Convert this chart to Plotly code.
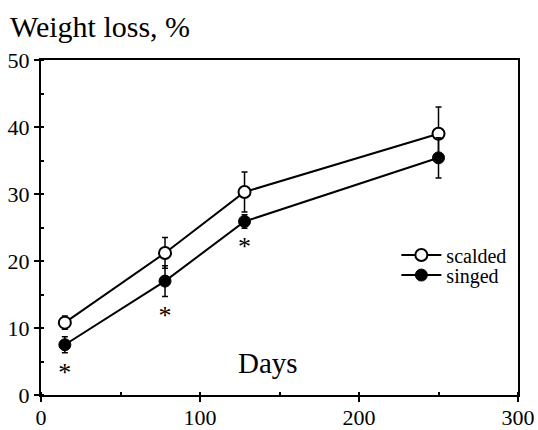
import plotly.graph_objects as go

days = [15, 78, 128, 250]
scalded = [10.8, 21.2, 30.3, 39.0]
scalded_err = [1.0, 2.3, 3.0, 4.0]
singed = [7.5, 17.0, 25.9, 35.4]
singed_err = [1.2, 2.3, 1.0, 3.0]
star_x = [15, 78, 128]
star_y = [3.1, 11.5, 21.9]
x_ticks = [0, 100, 200, 300]
y_ticks = [0, 10, 20, 30, 40, 50]

FONT = "'Liberation Serif', 'Times New Roman', serif"

fig = go.Figure()
fig.add_trace(go.Scatter(
    x=days, y=scalded, mode="lines+markers", name="scalded", legend="legend",
    line=dict(color="black", width=2),
    marker=dict(symbol="circle", size=12, color="white", line=dict(color="black", width=2)),
    error_y=dict(type="data", array=scalded_err, color="black", thickness=1.5, width=3),
))
fig.add_trace(go.Scatter(
    x=days, y=singed, mode="lines+markers", name="singed", legend="legend2",
    line=dict(color="black", width=2),
    marker=dict(symbol="circle", size=12, color="black", line=dict(color="black", width=1)),
    error_y=dict(type="data", array=singed_err, color="black", thickness=1.5, width=3),
))
fig.add_trace(go.Scatter(
    x=star_x, y=star_y, mode="text", text=["*"] * len(star_x),
    textfont=dict(family=FONT, size=26, color="black"), showlegend=False, hoverinfo="skip",
))

fig.add_annotation(x=143, y=4.8, xref="x", yref="y", text="Days", showarrow=False,
                   font=dict(family=FONT, size=29, color="black"))
fig.add_annotation(xref="paper", yref="paper", x=(8 - 41) / 477, y=(395 - 27) / 335,
                   text="Weight loss, %", showarrow=False, xanchor="left", yanchor="middle",
                   font=dict(family=FONT, size=30, color="black"))

axis_common = dict(showgrid=False, zeroline=False, showline=True, linecolor="black",
                   linewidth=2, mirror=True, ticks="outside", tickcolor="black",
                   ticklen=5, tickwidth=2, automargin=False,
                   tickfont=dict(family=FONT, size=22, color="black"))
fig.update_xaxes(range=[0, 300], tickvals=x_ticks, ticklabelstandoff=-3, **axis_common,
                 minor=dict(dtick=50, ticks="inside", ticklen=3, tickcolor="black"))
fig.update_yaxes(range=[0, 50], tickvals=y_ticks, **axis_common,
                 minor=dict(dtick=5, ticks="inside", ticklen=3, tickcolor="black"))

legend_common = dict(xanchor="left", yanchor="middle", bgcolor="rgba(0,0,0,0)",
                     font=dict(family=FONT, size=20, color="black"), itemwidth=40,
                     borderwidth=0)
fig.update_layout(
    width=538, height=430,
    font=dict(family=FONT, color="black"),
    margin=dict(l=41, r=20, t=60, b=35, autoexpand=False),
    paper_bgcolor="white", plot_bgcolor="white",
    showlegend=True,
    legend=dict(x=0.745, y=0.418, **legend_common),
    legend2=dict(x=0.745, y=0.358, **legend_common),
)

fig.write_html("out.html")
